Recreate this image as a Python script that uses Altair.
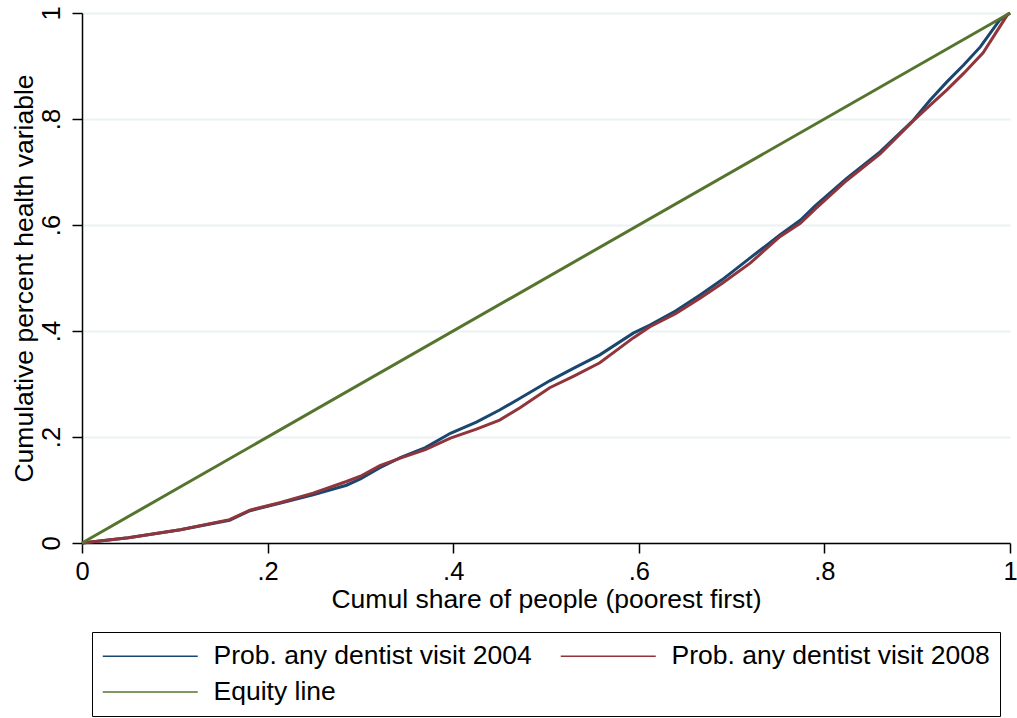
import altair as alt
import pandas as pd

# Concentration curve, 2004 (cumulative share of people vs cumulative share of visits)
share_2004 = [0, 0.05, 0.106, 0.159, 0.181, 0.213, 0.249, 0.285, 0.30, 0.321, 0.343,
              0.37, 0.397, 0.425, 0.45, 0.472, 0.504, 0.53, 0.558, 0.594, 0.612,
              0.64, 0.666, 0.69, 0.72, 0.752, 0.774, 0.79, 0.824, 0.86, 0.896,
              0.914, 0.932, 0.95, 0.968, 0.989, 1.0]
cum_2004 = [0, 0.010, 0.025, 0.043, 0.061, 0.075, 0.091, 0.109, 0.121, 0.142, 0.161,
            0.180, 0.207, 0.228, 0.251, 0.273, 0.306, 0.330, 0.355, 0.396, 0.411,
            0.438, 0.468, 0.497, 0.538, 0.581, 0.609, 0.636, 0.688, 0.738, 0.798,
            0.836, 0.870, 0.902, 0.936, 0.987, 1.0]

# Concentration curve, 2008
share_2008 = [0, 0.05, 0.106, 0.159, 0.181, 0.213, 0.249, 0.285, 0.30, 0.321, 0.343,
              0.37, 0.397, 0.425, 0.45, 0.472, 0.504, 0.53, 0.558, 0.594, 0.612,
              0.64, 0.666, 0.69, 0.72, 0.752, 0.774, 0.79, 0.824, 0.86, 0.896,
              0.914, 0.932, 0.95, 0.971, 0.997, 1.0]
cum_2008 = [0, 0.010, 0.025, 0.044, 0.062, 0.076, 0.094, 0.116, 0.126, 0.146, 0.160,
            0.176, 0.198, 0.215, 0.232, 0.255, 0.293, 0.315, 0.340, 0.387, 0.408,
            0.433, 0.462, 0.490, 0.528, 0.578, 0.603, 0.630, 0.684, 0.734, 0.797,
            0.826, 0.855, 0.886, 0.925, 0.996, 1.0]

# Line of perfect equality
equity_share = [0, 1]
equity_cum = [0, 1]

series_names = ["Prob. any dentist visit 2004", "Prob. any dentist visit 2008", "Equity line"]
series_colors = ["#1A476F", "#90353B", "#55752F"]

tick_values = [0, 0.2, 0.4, 0.6, 0.8, 1]
tick_labels = ["0", ".2", ".4", ".6", ".8", "1"]

FONT = "Liberation Sans"

label_expr = "[" + ",".join(f"'{t}'" for t in tick_labels) + "][round(datum.value * 5)]"

color_scale = alt.Scale(domain=series_names, range=series_colors)

legend = alt.Legend(
    title=None,
    orient="none",
    direction="horizontal",
    legendX=10,
    legendY=619,
    columns=2,
    symbolType="M-1,0H6.17",
    symbolSize=702.25,
    symbolStrokeWidth=1.5,
    labelFont=FONT,
    labelFontSize=26.5,
    labelColor="black",
    labelOffset=83.5,
    labelLimit=800,
    columnPadding=25,
    rowPadding=8,
    padding=10,
    strokeColor="black",
    fillColor="white",
)

x_enc = alt.X(
    "share:Q",
    scale=alt.Scale(domain=[0, 1], nice=False),
    axis=alt.Axis(
        title="Cumul share of people (poorest first)",
        values=tick_values,
        labelExpr=label_expr,
        grid=False,
        labelPadding=6,
        titlePadding=2,
        labelFlush=False,
        labelOverlap=False,
    ),
)
y_enc = alt.Y(
    "cum:Q",
    scale=alt.Scale(domain=[0, 1], nice=False),
    axis=alt.Axis(
        title="Cumulative percent health variable",
        values=tick_values,
        labelExpr=label_expr,
        grid=True,
        gridColor="#EAF2F3",
        gridWidth=2,
        labelAngle=270,
        labelAlign="center",
        labelBaseline="bottom",
        labelPadding=8,
        titlePadding=1,
        labelFlush=False,
        labelOverlap=False,
    ),
)


def curve(shares, cums, name):
    df = pd.DataFrame({"share": shares, "cum": cums, "series": name})
    return alt.Chart(df).mark_line(strokeWidth=3).encode(
        x=x_enc,
        y=y_enc,
        color=alt.Color("series:N", scale=color_scale, legend=legend),
    )


chart = alt.layer(
    curve(share_2004, cum_2004, series_names[0]),
    curve(share_2008, cum_2008, series_names[1]),
    curve(equity_share, equity_cum, series_names[2]),
).properties(
    width=928,
    height=530,
    autosize="none",
    padding={"left": 82, "top": 13, "right": 7, "bottom": 175},
    background="white",
).configure_view(
    stroke=None
).configure_axis(
    domainColor="black",
    domainWidth=1.5,
    tickColor="black",
    tickWidth=1.5,
    tickSize=10,
    labelFont=FONT,
    labelFontSize=25.5,
    labelColor="black",
    titleFont=FONT,
    titleFontSize=26.5,
    titleFontWeight="normal",
    titleColor="black",
)

chart.save("out.html", embed_options={"renderer": "svg", "actions": False})
